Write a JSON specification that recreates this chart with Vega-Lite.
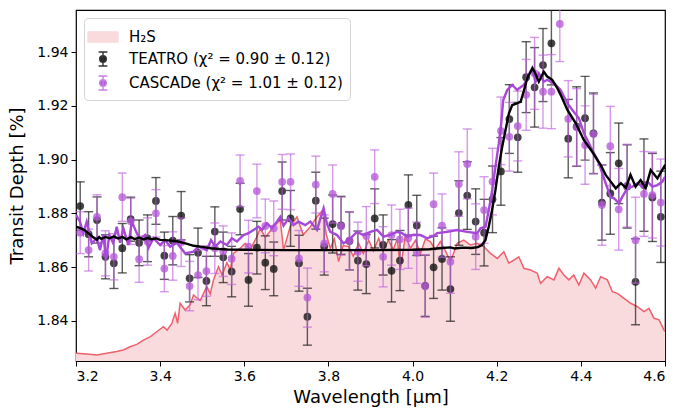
{
  "$schema": "https://vega.github.io/schema/vega-lite/v6.json",
  "width": 589,
  "height": 351,
  "autosize": {"type": "none"},
  "padding": {"left": 76, "top": 10, "right": 15, "bottom": 47},
  "background": "white",
  "config": {
    "font": "DejaVu Sans",
    "view": {"stroke": "black", "strokeWidth": 1.2},
    "axis": {"domain": false, "grid": false, "ticks": true, "tickColor": "black", "tickSize": 5, "tickWidth": 1, "labelFontSize": 14, "labelColor": "black", "labelFont": "DejaVu Sans", "titleFont": "DejaVu Sans", "titleFontSize": 18, "titleFontWeight": "normal", "titleColor": "black"}
  },
  "datasets": {
    "teatro": [
      {"x":3.21,"y":1.8827,"e":0.0090},{"x":3.23,"y":1.8722,"e":0.0084},{"x":3.25,"y":1.8775,"e":0.0086},{"x":3.27,"y":1.8638,"e":0.0082},{"x":3.29,"y":1.8614,"e":0.0094},
      {"x":3.31,"y":1.8670,"e":0.0092},{"x":3.33,"y":1.8778,"e":0.0082},{"x":3.35,"y":1.8690,"e":0.0085},{"x":3.37,"y":1.8707,"e":0.0087},{"x":3.39,"y":1.8846,"e":0.0087},
      {"x":3.41,"y":1.8642,"e":0.0088},{"x":3.43,"y":1.8698,"e":0.0090},{"x":3.45,"y":1.8791,"e":0.0090},{"x":3.47,"y":1.8558,"e":0.0088},{"x":3.49,"y":1.8653,"e":0.0092},
      {"x":3.51,"y":1.8548,"e":0.0092},{"x":3.53,"y":1.8732,"e":0.0092},{"x":3.55,"y":1.8636,"e":0.0094},{"x":3.57,"y":1.8583,"e":0.0094},{"x":3.59,"y":1.8816,"e":0.0096},
      {"x":3.61,"y":1.8552,"e":0.0098},{"x":3.63,"y":1.8672,"e":0.0098},{"x":3.65,"y":1.8616,"e":0.0100},{"x":3.67,"y":1.8593,"e":0.0100},{"x":3.69,"y":1.8883,"e":0.0108},
      {"x":3.71,"y":1.8781,"e":0.0104},{"x":3.73,"y":1.8614,"e":0.0104},{"x":3.75,"y":1.8415,"e":0.0106},{"x":3.77,"y":1.8847,"e":0.0106},{"x":3.79,"y":1.8676,"e":0.0106},
      {"x":3.81,"y":1.8760,"e":0.0108},{"x":3.83,"y":1.8755,"e":0.0108},{"x":3.85,"y":1.8697,"e":0.0108},{"x":3.87,"y":1.8624,"e":0.0110},{"x":3.89,"y":1.8611,"e":0.0110},
      {"x":3.91,"y":1.8781,"e":0.0110},{"x":3.93,"y":1.8682,"e":0.0112},{"x":3.95,"y":1.8586,"e":0.0116},{"x":3.97,"y":1.8624,"e":0.0112},{"x":3.99,"y":1.8831,"e":0.0112},
      {"x":4.01,"y":1.8755,"e":0.0112},{"x":4.03,"y":1.8530,"e":0.0114},{"x":4.05,"y":1.8599,"e":0.0116},{"x":4.07,"y":1.8630,"e":0.0116},{"x":4.09,"y":1.8518,"e":0.0120},
      {"x":4.11,"y":1.8801,"e":0.0120},{"x":4.13,"y":1.8866,"e":0.0126},{"x":4.15,"y":1.8769,"e":0.0122},{"x":4.17,"y":1.8728,"e":0.0124},{"x":4.19,"y":1.8852,"e":0.0124},
      {"x":4.21,"y":1.8956,"e":0.0126},{"x":4.23,"y":1.9151,"e":0.0128},{"x":4.25,"y":1.9083,"e":0.0130},{"x":4.27,"y":1.9307,"e":0.0132},{"x":4.29,"y":1.9269,"e":0.0148},
      {"x":4.31,"y":1.9352,"e":0.0136},{"x":4.33,"y":1.9433,"e":0.0155},{"x":4.35,"y":1.9750,"e":0.0150},{"x":4.37,"y":1.9078,"e":0.0146},{"x":4.39,"y":1.9123,"e":0.0148},
      {"x":4.41,"y":1.9154,"e":0.0156},{"x":4.43,"y":1.9098,"e":0.0150},{"x":4.45,"y":1.8840,"e":0.0140},{"x":4.47,"y":1.8874,"e":0.0152},{"x":4.49,"y":1.8986,"e":0.0150},
      {"x":4.51,"y":1.8900,"e":0.0155},{"x":4.53,"y":1.8545,"e":0.0160},{"x":4.55,"y":1.8905,"e":0.0172},{"x":4.57,"y":1.8859,"e":0.0164},{"x":4.59,"y":1.8787,"e":0.0170}
    ],
    "cascade": [
      {"x":3.21,"y":1.8728,"e":0.0078},{"x":3.23,"y":1.8663,"e":0.0078},{"x":3.25,"y":1.8787,"e":0.0082},{"x":3.27,"y":1.8651,"e":0.0084},{"x":3.29,"y":1.8638,"e":0.0086},
      {"x":3.31,"y":1.8860,"e":0.0090},{"x":3.33,"y":1.8770,"e":0.0086},{"x":3.35,"y":1.8629,"e":0.0086},{"x":3.37,"y":1.8695,"e":0.0088},{"x":3.39,"y":1.8800,"e":0.0088},
      {"x":3.41,"y":1.8594,"e":0.0086},{"x":3.43,"y":1.8641,"e":0.0090},{"x":3.45,"y":1.8692,"e":0.0090},{"x":3.47,"y":1.8529,"e":0.0092},{"x":3.49,"y":1.8570,"e":0.0092},
      {"x":3.51,"y":1.8585,"e":0.0094},{"x":3.53,"y":1.8670,"e":0.0094},{"x":3.55,"y":1.8659,"e":0.0094},{"x":3.57,"y":1.8631,"e":0.0096},{"x":3.59,"y":1.8921,"e":0.0096},
      {"x":3.61,"y":1.8676,"e":0.0098},{"x":3.63,"y":1.8883,"e":0.0100},{"x":3.65,"y":1.8753,"e":0.0100},{"x":3.67,"y":1.8744,"e":0.0102},{"x":3.69,"y":1.8917,"e":0.0102},
      {"x":3.71,"y":1.8917,"e":0.0104},{"x":3.73,"y":1.8632,"e":0.0104},{"x":3.75,"y":1.8486,"e":0.0110},{"x":3.77,"y":1.8907,"e":0.0106},{"x":3.79,"y":1.8688,"e":0.0106},
      {"x":3.81,"y":1.8872,"e":0.0108},{"x":3.83,"y":1.8752,"e":0.0108},{"x":3.85,"y":1.8698,"e":0.0108},{"x":3.87,"y":1.8657,"e":0.0110},{"x":3.89,"y":1.8715,"e":0.0110},
      {"x":3.91,"y":1.8936,"e":0.0100},{"x":3.93,"y":1.8638,"e":0.0112},{"x":3.95,"y":1.8719,"e":0.0112},{"x":3.97,"y":1.8703,"e":0.0112},{"x":3.99,"y":1.8707,"e":0.0112},
      {"x":4.01,"y":1.8653,"e":0.0114},{"x":4.03,"y":1.8529,"e":0.0116},{"x":4.05,"y":1.8834,"e":0.0116},{"x":4.07,"y":1.8754,"e":0.0118},{"x":4.09,"y":1.8620,"e":0.0118},
      {"x":4.11,"y":1.8909,"e":0.0120},{"x":4.13,"y":1.8984,"e":0.0130},{"x":4.15,"y":1.8713,"e":0.0122},{"x":4.17,"y":1.8812,"e":0.0124},{"x":4.19,"y":1.8918,"e":0.0124},
      {"x":4.21,"y":1.9107,"e":0.0126},{"x":4.23,"y":1.9085,"e":0.0128},{"x":4.25,"y":1.9125,"e":0.0130},{"x":4.27,"y":1.9241,"e":0.0132},{"x":4.29,"y":1.9321,"e":0.0134},
      {"x":4.31,"y":1.9253,"e":0.0136},{"x":4.33,"y":1.9253,"e":0.0138},{"x":4.35,"y":1.9505,"e":0.0140},{"x":4.37,"y":1.9152,"e":0.0142},{"x":4.39,"y":1.9120,"e":0.0144},
      {"x":4.41,"y":1.9054,"e":0.0146},{"x":4.43,"y":1.9095,"e":0.0148},{"x":4.45,"y":1.8831,"e":0.0150},{"x":4.47,"y":1.9050,"e":0.0148},{"x":4.49,"y":1.8815,"e":0.0152},
      {"x":4.51,"y":1.8903,"e":0.0154},{"x":4.53,"y":1.8700,"e":0.0160},{"x":4.55,"y":1.8872,"e":0.0158},{"x":4.57,"y":1.8868,"e":0.0160},{"x":4.59,"y":1.8840,"e":0.0162}
    ],
    "tmodel": [
      {"x":3.2,"y":1.875},{"x":3.21,"y":1.8745},{"x":3.22,"y":1.8738},{"x":3.23,"y":1.8725},{"x":3.24,"y":1.8712},{"x":3.25,"y":1.8702},{"x":3.255,"y":1.8712},{"x":3.26,"y":1.8705},{"x":3.27,"y":1.8712},{"x":3.28,"y":1.8707},{"x":3.29,"y":1.8714},{"x":3.3,"y":1.8706},{"x":3.31,"y":1.8712},{"x":3.32,"y":1.8703},{"x":3.33,"y":1.8711},{"x":3.34,"y":1.8704},{"x":3.35,"y":1.871},{"x":3.36,"y":1.8703},{"x":3.37,"y":1.8708},{"x":3.38,"y":1.8703},{"x":3.39,"y":1.8707},{"x":3.40,"y":1.8701},{"x":3.42,"y":1.8699},{"x":3.44,"y":1.8696},{"x":3.46,"y":1.8688},{"x":3.48,"y":1.8679},{"x":3.50,"y":1.8675},{"x":3.52,"y":1.8670},{"x":3.54,"y":1.8667},{"x":3.56,"y":1.8665},{"x":3.60,"y":1.8664},{"x":3.70,"y":1.8663},{"x":3.80,"y":1.8663},{"x":3.90,"y":1.8663},{"x":4.00,"y":1.8664},{"x":4.04,"y":1.8666},{"x":4.07,"y":1.8671},{"x":4.09,"y":1.8673},{"x":4.10,"y":1.8669},{"x":4.12,"y":1.8672},{"x":4.14,"y":1.8671},{"x":4.155,"y":1.8674},{"x":4.165,"y":1.8682},{"x":4.173,"y":1.870},{"x":4.181,"y":1.875},{"x":4.189,"y":1.8812},{"x":4.197,"y":1.8887},{"x":4.205,"y":1.8974},{"x":4.213,"y":1.9048},{"x":4.221,"y":1.911},{"x":4.229,"y":1.9172},{"x":4.237,"y":1.9203},{"x":4.245,"y":1.9207},{"x":4.257,"y":1.9216},{"x":4.265,"y":1.9259},{"x":4.273,"y":1.9305},{"x":4.285,"y":1.934},{"x":4.29,"y":1.9327},{"x":4.30,"y":1.929},{"x":4.308,"y":1.9315},{"x":4.312,"y":1.9327},{"x":4.32,"y":1.9309},{"x":4.332,"y":1.9297},{"x":4.344,"y":1.9266},{"x":4.352,"y":1.9241},{"x":4.368,"y":1.9185},{"x":4.388,"y":1.9135},{"x":4.407,"y":1.9073},{"x":4.427,"y":1.9029},{"x":4.447,"y":1.898},{"x":4.459,"y":1.8943},{"x":4.471,"y":1.8918},{"x":4.483,"y":1.8893},{"x":4.495,"y":1.8912},{"x":4.507,"y":1.8895},{"x":4.518,"y":1.8943},{"x":4.530,"y":1.8899},{"x":4.542,"y":1.8924},{"x":4.554,"y":1.8895},{"x":4.566,"y":1.8961},{"x":4.582,"y":1.893},{"x":4.598,"y":1.8974},{"x":4.6,"y":1.8965}
    ],
    "cmodel": [
      {"x":3.2,"y":1.8794},{"x":3.2095,"y":1.8769},{"x":3.2174,"y":1.8726},{"x":3.2255,"y":1.8769},{"x":3.2374,"y":1.8688},{"x":3.2493,"y":1.8707},{"x":3.2571,"y":1.8663},{"x":3.265,"y":1.872},{"x":3.2714,"y":1.8626},{"x":3.2792,"y":1.8719},{"x":3.288,"y":1.869},{"x":3.2969,"y":1.875},{"x":3.3047,"y":1.869},{"x":3.3126,"y":1.8744},{"x":3.3245,"y":1.8682},{"x":3.3326,"y":1.8769},{"x":3.3445,"y":1.8726},{"x":3.3523,"y":1.8705},{"x":3.3642,"y":1.8719},{"x":3.372,"y":1.867},{"x":3.384,"y":1.8707},{"x":3.40,"y":1.8682},{"x":3.412,"y":1.870},{"x":3.4237,"y":1.8676},{"x":3.4396,"y":1.869},{"x":3.4594,"y":1.8651},{"x":3.4792,"y":1.8657},{"x":3.491,"y":1.8676},{"x":3.511,"y":1.8663},{"x":3.521,"y":1.870},{"x":3.531,"y":1.8676},{"x":3.543,"y":1.8695},{"x":3.5586,"y":1.8682},{"x":3.5705,"y":1.8707},{"x":3.5824,"y":1.8695},{"x":3.598,"y":1.8719},{"x":3.61,"y":1.8726},{"x":3.622,"y":1.8738},{"x":3.634,"y":1.875},{"x":3.642,"y":1.8738},{"x":3.654,"y":1.8763},{"x":3.6657,"y":1.8745},{"x":3.6776,"y":1.8769},{"x":3.6855,"y":1.8787},{"x":3.6933,"y":1.8754},{"x":3.7052,"y":1.8781},{"x":3.717,"y":1.8756},{"x":3.729,"y":1.8769},{"x":3.745,"y":1.8756},{"x":3.7569,"y":1.8769},{"x":3.7728,"y":1.8738},{"x":3.7885,"y":1.8819},{"x":3.7966,"y":1.876},{"x":3.8045,"y":1.8731},{"x":3.8204,"y":1.8719},{"x":3.836,"y":1.8688},{"x":3.852,"y":1.8707},{"x":3.868,"y":1.8731},{"x":3.8837,"y":1.8719},{"x":3.8997,"y":1.8731},{"x":3.9156,"y":1.8738},{"x":3.931,"y":1.8713},{"x":3.947,"y":1.872},{"x":3.963,"y":1.8731},{"x":3.975,"y":1.8726},{"x":3.987,"y":1.8713},{"x":4.0027,"y":1.872},{"x":4.0187,"y":1.8719},{"x":4.0346,"y":1.8707},{"x":4.0503,"y":1.8716},{"x":4.0584,"y":1.8726},{"x":4.0822,"y":1.8731},{"x":4.106,"y":1.8738},{"x":4.13,"y":1.8731},{"x":4.1536,"y":1.8726},{"x":4.1614,"y":1.8744},{"x":4.1734,"y":1.875},{"x":4.1812,"y":1.8812},{"x":4.1893,"y":1.8887},{"x":4.197,"y":1.8974},{"x":4.205,"y":1.9061},{"x":4.2107,"y":1.9135},{"x":4.2155,"y":1.9222},{"x":4.225,"y":1.9259},{"x":4.2369,"y":1.9278},{"x":4.2488,"y":1.9259},{"x":4.2526,"y":1.9265},{"x":4.2645,"y":1.9278},{"x":4.2764,"y":1.9315},{"x":4.2845,"y":1.934},{"x":4.2924,"y":1.929},{"x":4.3002,"y":1.9321},{"x":4.312,"y":1.929},{"x":4.32,"y":1.9297},{"x":4.3359,"y":1.9284},{"x":4.3518,"y":1.9259},{"x":4.3678,"y":1.921},{"x":4.3797,"y":1.9185},{"x":4.3954,"y":1.9154},{"x":4.4073,"y":1.9098},{"x":4.4232,"y":1.9048},{"x":4.4351,"y":1.9011},{"x":4.443,"y":1.8986},{"x":4.4549,"y":1.893},{"x":4.4708,"y":1.886},{"x":4.4787,"y":1.8856},{"x":4.4906,"y":1.8837},{"x":4.4987,"y":1.8862},{"x":4.5106,"y":1.8893},{"x":4.5225,"y":1.8899},{"x":4.5344,"y":1.8912},{"x":4.5463,"y":1.8899},{"x":4.5582,"y":1.8918},{"x":4.57,"y":1.8899},{"x":4.582,"y":1.8905},{"x":4.5939,"y":1.8918},{"x":4.6,"y":1.8936}
    ],
    "h2s": [
      {"x":3.2,"y":1.8279},{"x":3.2255,"y":1.8276},{"x":3.2493,"y":1.8272},{"x":3.273,"y":1.8279},{"x":3.2969,"y":1.8285},{"x":3.3126,"y":1.8291},{"x":3.3285,"y":1.8303},{"x":3.3445,"y":1.8312},{"x":3.3602,"y":1.8328},{"x":3.376,"y":1.834},{"x":3.392,"y":1.8359},{"x":3.4078,"y":1.8378},{"x":3.4166,"y":1.8365},{"x":3.4278,"y":1.839},{"x":3.4356,"y":1.8428},{"x":3.4415,"y":1.839},{"x":3.4475,"y":1.8465},{"x":3.4594,"y":1.844},{"x":3.4713,"y":1.8459},{"x":3.4792,"y":1.8496},{"x":3.495,"y":1.8475},{"x":3.511,"y":1.8527},{"x":3.519,"y":1.850},{"x":3.5268,"y":1.8552},{"x":3.5386,"y":1.8601},{"x":3.5474,"y":1.857},{"x":3.5586,"y":1.8616},{"x":3.5665,"y":1.859},{"x":3.5744,"y":1.8651},{"x":3.5903,"y":1.867},{"x":3.602,"y":1.8688},{"x":3.614,"y":1.8665},{"x":3.63,"y":1.8713},{"x":3.6379,"y":1.8744},{"x":3.65,"y":1.871},{"x":3.6695,"y":1.875},{"x":3.6855,"y":1.8775},{"x":3.6933,"y":1.8663},{"x":3.709,"y":1.875},{"x":3.7252,"y":1.8787},{"x":3.74,"y":1.872},{"x":3.757,"y":1.875},{"x":3.7728,"y":1.8787},{"x":3.787,"y":1.8812},{"x":3.795,"y":1.872},{"x":3.8045,"y":1.867},{"x":3.814,"y":1.8705},{"x":3.8242,"y":1.862},{"x":3.835,"y":1.868},{"x":3.848,"y":1.8676},{"x":3.859,"y":1.864},{"x":3.8718,"y":1.8688},{"x":3.883,"y":1.865},{"x":3.8956,"y":1.870},{"x":3.907,"y":1.866},{"x":3.9194,"y":1.8707},{"x":3.93,"y":1.866},{"x":3.9425,"y":1.870},{"x":3.954,"y":1.8665},{"x":3.964,"y":1.8705},{"x":3.971,"y":1.8589},{"x":3.983,"y":1.8719},{"x":3.995,"y":1.867},{"x":4.007,"y":1.870},{"x":4.0187,"y":1.865},{"x":4.0306,"y":1.8705},{"x":4.0425,"y":1.8694},{"x":4.054,"y":1.8665},{"x":4.066,"y":1.8695},{"x":4.078,"y":1.866},{"x":4.09,"y":1.862},{"x":4.106,"y":1.8688},{"x":4.1217,"y":1.870},{"x":4.1377,"y":1.8682},{"x":4.1536,"y":1.8688},{"x":4.1693,"y":1.8676},{"x":4.185,"y":1.8651},{"x":4.2012,"y":1.8632},{"x":4.2169,"y":1.8657},{"x":4.2288,"y":1.8614},{"x":4.2407,"y":1.8626},{"x":4.2526,"y":1.8638},{"x":4.2645,"y":1.8595},{"x":4.2804,"y":1.8589},{"x":4.2964,"y":1.8577},{"x":4.3042,"y":1.8539},{"x":4.32,"y":1.8564},{"x":4.3359,"y":1.8552},{"x":4.3478,"y":1.8595},{"x":4.3597,"y":1.857},{"x":4.3716,"y":1.8552},{"x":4.383,"y":1.857},{"x":4.3954,"y":1.8533},{"x":4.4073,"y":1.8577},{"x":4.4232,"y":1.8552},{"x":4.4351,"y":1.8521},{"x":4.447,"y":1.8564},{"x":4.463,"y":1.8552},{"x":4.4749,"y":1.8508},{"x":4.4868,"y":1.8502},{"x":4.5025,"y":1.8483},{"x":4.5184,"y":1.8465},{"x":4.5344,"y":1.8452},{"x":4.55,"y":1.8434},{"x":4.562,"y":1.8446},{"x":4.5739,"y":1.8409},{"x":4.5858,"y":1.8403},{"x":4.5977,"y":1.8365},{"x":4.6,"y":1.836}
    ],
    "leg": [
      {"lab":"H₂S"},{"lab":"TEATRO (χ² = 0.90 ± 0.12)"},{"lab":"CASCADe (χ² = 1.01 ± 0.12)"}
    ]
  },
  "encoding": {
    "x": {"field": "x", "type": "quantitative", "scale": {"domain": [3.2, 4.6], "nice": false, "zero": false},
          "axis": {"title": "Wavelength [μm]", "values": [3.2, 3.4, 3.6, 3.8, 4.0, 4.2, 4.4, 4.6], "format": ".1f", "labelPadding": 3, "titlePadding": 5}},
    "y": {"field": "y", "type": "quantitative", "scale": {"domain": [1.825, 1.9557], "nice": false, "zero": false},
          "axis": {"title": "Transit Depth [%]", "values": [1.84, 1.86, 1.88, 1.90, 1.92, 1.94], "format": ".2f", "labelPadding": 3, "titlePadding": 10}}
  },
  "layer": [
    {"data": {"name": "h2s"}, "mark": {"type": "area", "color": "#f9dadd", "opacity": 1, "clip": true},
     "encoding": {"y2": {"datum": 1.825}}},
    {"data": {"name": "h2s"}, "mark": {"type": "line", "color": "#f0606c", "strokeWidth": 1.5, "clip": true}},
    {"data": {"name": "teatro"}, "mark": {"type": "errorbar", "ticks": true, "size": 9, "thickness": 1.4, "color": "#262626", "opacity": 0.75, "clip": true},
     "encoding": {"yError": {"field": "e"}}},
    {"data": {"name": "teatro"}, "mark": {"type": "point", "filled": true, "shape": "circle", "size": 60, "color": "#1a1a1a", "opacity": 0.82, "clip": true}},
    {"data": {"name": "cascade"}, "mark": {"type": "errorbar", "ticks": true, "size": 9, "thickness": 1.4, "color": "#c063e0", "opacity": 0.65, "clip": true},
     "encoding": {"yError": {"field": "e"}}},
    {"data": {"name": "cascade"}, "mark": {"type": "point", "filled": true, "shape": "circle", "size": 60, "color": "#b65ad8", "opacity": 0.78, "clip": true}},
    {"data": {"name": "cmodel"}, "mark": {"type": "line", "color": "#a848d8", "strokeWidth": 2.4, "clip": true}},
    {"data": {"name": "tmodel"}, "mark": {"type": "line", "color": "#000000", "strokeWidth": 2.4, "clip": true}},
    {"data": {"name": "leg"}, "transform": [{"filter": "false"}],
     "mark": {"type": "point", "filled": true, "opacity": 1},
     "encoding": {
       "x": {"datum": 3.5},
       "y": {"datum": 1.9},
       "shape": {"field": "lab", "type": "nominal",
                 "scale": {"domain": ["H₂S", "TEATRO (χ² = 0.90 ± 0.12)", "CASCADe (χ² = 1.01 ± 0.12)"],
                           "range": ["M-1.36,-0.45L1.36,-0.45L1.36,0.45L-1.36,0.45Z",
                                     "M0,-0.64L0,0.64M-0.4,-0.64L0.4,-0.64M-0.4,0.64L0.4,0.64M-0.3,0A0.3,0.3 0 1,0 0.3,0A0.3,0.3 0 1,0 -0.3,0Z",
                                     "M0,-0.64L0,0.64M-0.4,-0.64L0.4,-0.64M-0.4,0.64L0.4,0.64M-0.3,0A0.3,0.3 0 1,0 0.3,0A0.3,0.3 0 1,0 -0.3,0Z"]},
                 "legend": {"title": null, "orient": "top-left", "offset": 8, "padding": 7, "symbolSize": 484, "symbolStrokeWidth": 1.4, "symbolOpacity": 1, "labelFontSize": 15, "labelFont": "DejaVu Sans", "labelColor": "black", "labelOffset": 14, "labelLimit": 500, "rowPadding": 2, "fillColor": "white", "strokeColor": "#d4d4d4", "cornerRadius": 4}},
       "fill": {"field": "lab", "type": "nominal",
                "scale": {"domain": ["H₂S", "TEATRO (χ² = 0.90 ± 0.12)", "CASCADe (χ² = 1.01 ± 0.12)"], "range": ["#f9dadd", "#262626", "#b65ad8"]},
                "legend": {"title": null, "orient": "top-left", "offset": 8, "padding": 7, "symbolSize": 484, "symbolStrokeWidth": 1.4, "symbolOpacity": 1, "labelFontSize": 15, "labelFont": "DejaVu Sans", "labelColor": "black", "labelOffset": 14, "labelLimit": 500, "rowPadding": 2, "fillColor": "white", "strokeColor": "#d4d4d4", "cornerRadius": 4}},
       "stroke": {"field": "lab", "type": "nominal",
                  "scale": {"domain": ["H₂S", "TEATRO (χ² = 0.90 ± 0.12)", "CASCADe (χ² = 1.01 ± 0.12)"], "range": ["#f9dadd", "#333333", "#c77ee6"]},
                  "legend": {"title": null, "orient": "top-left", "offset": 8, "padding": 7, "symbolSize": 484, "symbolStrokeWidth": 1.4, "symbolOpacity": 1, "labelFontSize": 15, "labelFont": "DejaVu Sans", "labelColor": "black", "labelOffset": 14, "labelLimit": 500, "rowPadding": 2, "fillColor": "white", "strokeColor": "#d4d4d4", "cornerRadius": 4}}
     }}
  ]
}
